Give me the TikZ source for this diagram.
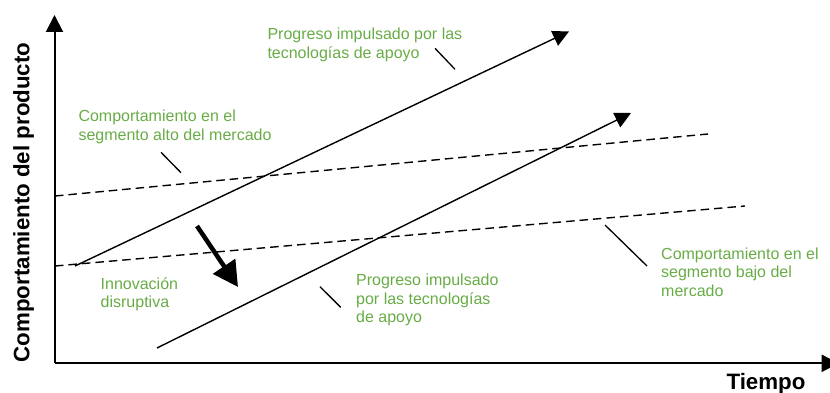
\documentclass[tikz,border=0pt]{standalone}
\usepackage{fontspec}
\setmainfont{Liberation Sans}
\usetikzlibrary{arrows.meta}
\definecolor{lblgreen}{RGB}{104,172,70}
\tikzset{
  axis/.style={line width=2pt,-{Triangle[length=17pt,width=17pt]}},
  trend/.style={line width=1.4pt,-{Triangle[length=16pt,width=16pt]}},
  segline/.style={line width=1.4pt,dash pattern=on 8.5pt off 5pt},
  leader/.style={line width=1.3pt},
  bigarrow/.style={line width=4.5pt,-{Triangle[length=25pt,width=26pt]}},
  lbl/.style={text=lblgreen,inner sep=0pt,align=left,anchor=base west,font=\fontsize{16}{18.5}\selectfont},
  axlbl/.style={inner sep=0pt,font=\fontsize{22.3}{26}\selectfont\bfseries}
}
\begin{document}
\begin{tikzpicture}[x=1pt,y=-1pt]
\useasboundingbox (0,0) rectangle (830,393);
% axes
\coordinate (o) at (54.5,363.3);
\coordinate (ytop) at (54.5,15);
\coordinate (xend) at (838.7,363.3);
\draw[axis] (o) -- (ytop);
\draw[axis] (o) -- (xend);
\node[axlbl,anchor=base] (tiempo) at (766,389.3) {Tiempo};
\node[axlbl,anchor=base,rotate=90] (ylab) at (29.3,202.4) {Comportamiento del producto};
% dashed segments
\coordinate (hiA) at (55,196);
\coordinate (hiB) at (708,134);
\coordinate (loA) at (55,266);
\coordinate (loB) at (745,206);
\draw[segline] (hiA) -- (hiB);
\draw[segline] (loA) -- (loB);
% progress arrows
\coordinate (p1a) at (75,266);
\coordinate (p1b) at (569,31.5);
\coordinate (p2a) at (157,348);
\coordinate (p2b) at (631,113);
\draw[trend] (p1a) -- (p1b);
\draw[trend] (p2a) -- (p2b);
% disruptive arrow
\coordinate (dA) at (197,226);
\coordinate (dB) at (238,287);
\draw[bigarrow] (dA) -- (dB);
% labels (anchored at the baseline of the last line)
\node[lbl] (t1) at (267.3,58.4) {Progreso impulsado por las\\tecnologías de apoyo};
\node[lbl] (t2) at (78.3,140.1) {Comportamiento en el\\segmento alto del mercado};
\node[lbl] (t3) at (100.5,307.5) {Innovación\\disruptiva};
\node[lbl] (t4) at (356,322.5) {Progreso impulsado\\por las tecnologías\\de apoyo};
\node[lbl] (t5) at (661,296.2) {Comportamiento en el\\segmento bajo del\\mercado};
% leaders
\coordinate (l1a) at (435,48.3); \coordinate (l1b) at (455,69.3);
\coordinate (l2a) at (161,152.3); \coordinate (l2b) at (181,172.7);
\coordinate (l4a) at (320,286.7); \coordinate (l4b) at (340.7,307.3);
\coordinate (l5a) at (605,225); \coordinate (l5b) at (647,266);
\draw[leader] (l1a) -- (l1b);
\draw[leader] (l2a) -- (l2b);
\draw[leader] (l4a) -- (l4b);
\draw[leader] (l5a) -- (l5b);
\end{tikzpicture}
\end{document}
